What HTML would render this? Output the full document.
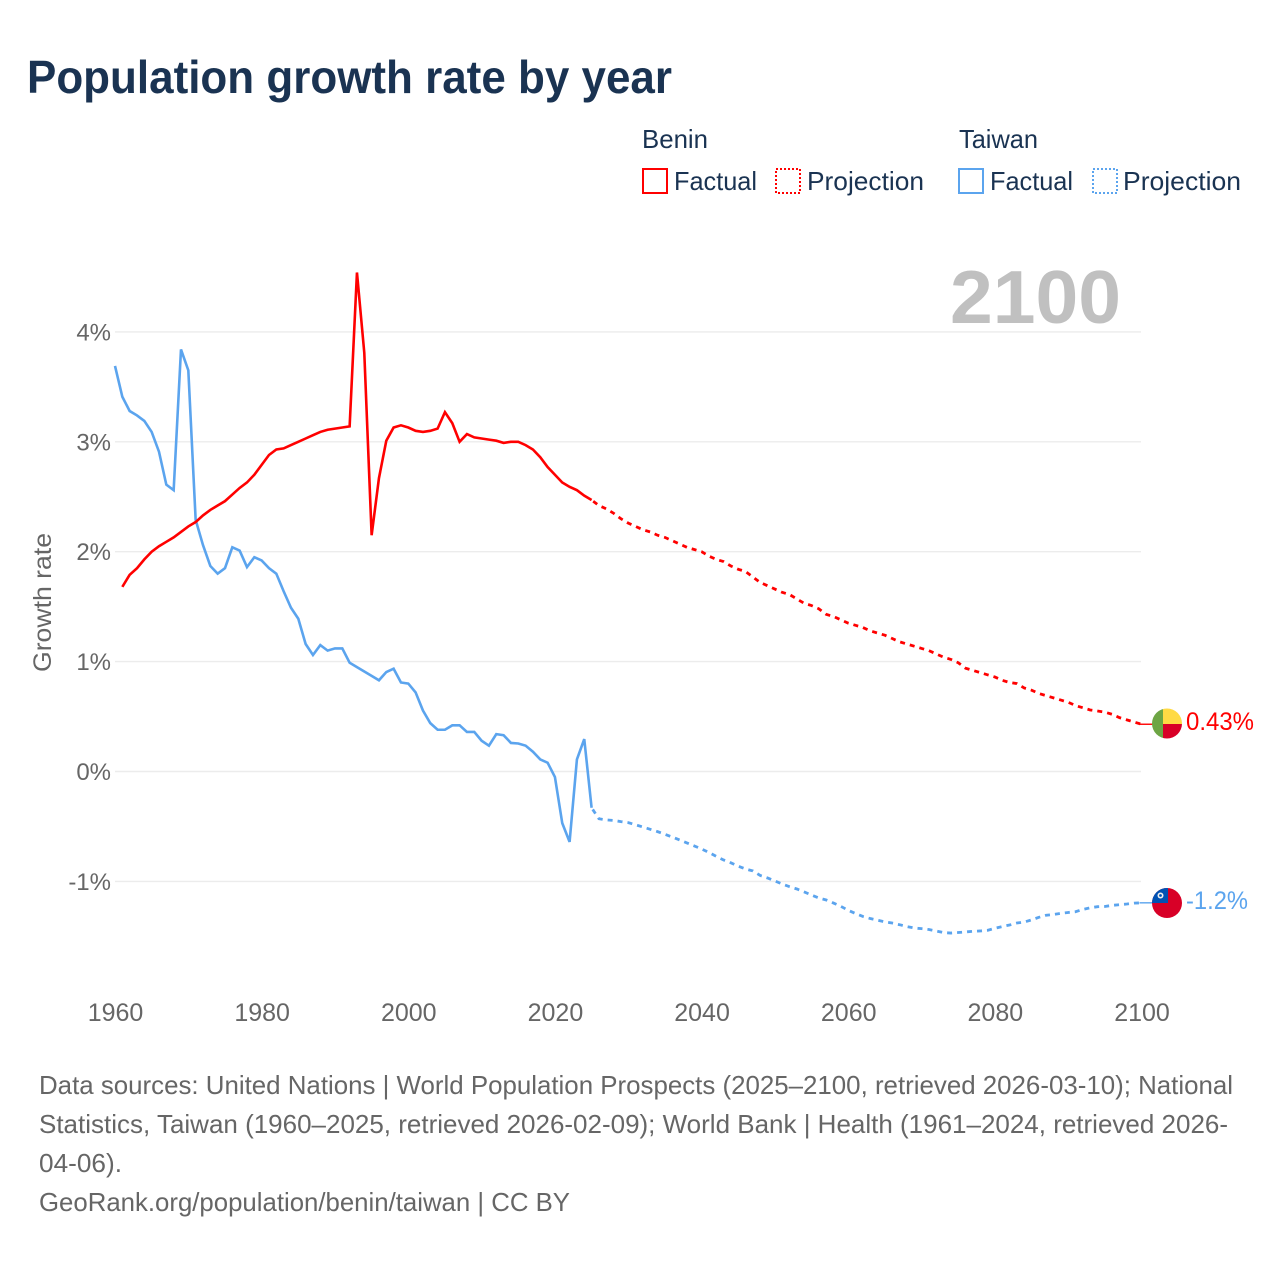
<!DOCTYPE html>
<html lang="en">
<head>
<meta charset="utf-8">
<title>Population growth rate by year</title>
<style>
html,body{margin:0;padding:0;background:#fff;width:1280px;height:1280px;overflow:hidden}
svg{display:block}
text{font-family:"Liberation Sans",sans-serif}
</style>
</head>
<body>
<svg id="chart" xmlns="http://www.w3.org/2000/svg" width="1280" height="1280" viewBox="0 0 1280 1280">
  <defs>
    <clipPath id="clip-benin"><circle cx="1167" cy="723.5" r="15"/></clipPath>
    <clipPath id="clip-taiwan"><circle cx="1167" cy="903" r="15"/></clipPath>
  </defs>
  <text x="27" y="93" font-size="46" font-weight="700" fill="#1a3352" textLength="645" lengthAdjust="spacingAndGlyphs">Population growth rate by year</text>

  <g font-size="26" fill="#1a3352">
    <text x="642" y="148" textLength="66" lengthAdjust="spacingAndGlyphs">Benin</text>
    <text x="959" y="148" textLength="79" lengthAdjust="spacingAndGlyphs">Taiwan</text>
    <g>
      <rect x="643" y="169" width="24" height="24" fill="none" stroke="#ff0000" stroke-width="2"/>
      <text x="674" y="190" textLength="83" lengthAdjust="spacingAndGlyphs">Factual</text>
    </g>
    <g>
      <rect x="776" y="169" width="24" height="24" fill="none" stroke="#ff0000" stroke-width="2" stroke-dasharray="2 2"/>
      <text x="807" y="190" textLength="117" lengthAdjust="spacingAndGlyphs">Projection</text>
    </g>
    <g>
      <rect x="959" y="169" width="24" height="24" fill="none" stroke="#5ba4ee" stroke-width="2"/>
      <text x="990" y="190" textLength="83" lengthAdjust="spacingAndGlyphs">Factual</text>
    </g>
    <g>
      <rect x="1093" y="169" width="24" height="24" fill="none" stroke="#5ba4ee" stroke-width="2" stroke-dasharray="2 2"/>
      <text x="1123" y="190" textLength="118" lengthAdjust="spacingAndGlyphs">Projection</text>
    </g>
  </g>

  <text x="950" y="323" font-size="75" font-weight="700" fill="#c0c0c0" textLength="171" lengthAdjust="spacingAndGlyphs">2100</text>

  <g id="grid"></g>
  <g id="y-ticks"></g>
  <g id="x-ticks"></g>
  <text transform="translate(51,672) rotate(-90)" font-size="25" fill="#666666" textLength="139" lengthAdjust="spacingAndGlyphs">Growth rate</text>

  <g id="series"></g>

  <g>
    <g clip-path="url(#clip-benin)">
      <rect x="1152" y="708" width="11" height="31" fill="#6da544"/>
      <rect x="1163" y="708" width="19" height="16" fill="#ffda44"/>
      <rect x="1163" y="724" width="19" height="15" fill="#d80027"/>
    </g>
    <text x="1186" y="730" font-size="25" fill="#ff0000" textLength="68" lengthAdjust="spacingAndGlyphs">0.43%</text>
  </g>
  <g>
    <g clip-path="url(#clip-taiwan)">
      <rect x="1152" y="888" width="30" height="30" fill="#d80027"/>
      <rect x="1152" y="888" width="16" height="15" fill="#0052b4"/>
      <circle cx="1160.5" cy="895.5" r="3" fill="#f0f0f0"/>
      <circle cx="1160.5" cy="895.5" r="1.4" fill="#0052b4"/>
    </g>
    <text x="1186" y="909" font-size="25" fill="#5ba4ee" textLength="62" lengthAdjust="spacingAndGlyphs">-1.2%</text>
  </g>

  <g font-size="26" fill="#666666">
    <text x="39" y="1094" textLength="1194" lengthAdjust="spacingAndGlyphs">Data sources: United Nations | World Population Prospects (2025–2100, retrieved 2026-03-10); National</text>
    <text x="39" y="1133" textLength="1189" lengthAdjust="spacingAndGlyphs">Statistics, Taiwan (1960–2025, retrieved 2026-02-09); World Bank | Health (1961–2024, retrieved 2026-</text>
    <text x="39" y="1172" textLength="83" lengthAdjust="spacingAndGlyphs">04-06).</text>
    <text x="39" y="1211" textLength="531" lengthAdjust="spacingAndGlyphs">GeoRank.org/population/benin/taiwan | CC BY</text>
  </g>
</svg>
<script>
const xTickYears = [1960, 1980, 2000, 2020, 2040, 2060, 2080, 2100];
const yTickValues = [4, 3, 2, 1, 0, -1];
const yTickLabels = ['4%', '3%', '2%', '1%', '0%', '-1%'];

const beninFactualStart = 1961;
const beninFactual = [1.68,1.79,1.85,1.93,2.00,2.05,2.09,2.13,2.18,2.23,2.27,2.33,2.38,2.42,2.46,2.52,2.58,2.63,2.70,2.79,2.88,2.93,2.94,2.97,3.00,3.03,3.06,3.09,3.11,3.12,3.13,3.14,4.54,3.81,2.15,2.67,3.01,3.13,3.15,3.13,3.10,3.09,3.10,3.12,3.27,3.17,3.00,3.07,3.04,3.03,3.02,3.01,2.99,3.00,3.00,2.97,2.93,2.86,2.77,2.70,2.63,2.59,2.56,2.51,2.47];
const beninProjectionStart = 2025;
const beninProjection = [2.47,2.42,2.39,2.35,2.30,2.26,2.23,2.20,2.18,2.15,2.13,2.10,2.07,2.04,2.02,2.00,1.96,1.93,1.91,1.87,1.84,1.82,1.77,1.72,1.69,1.66,1.63,1.61,1.57,1.53,1.51,1.48,1.43,1.41,1.38,1.35,1.33,1.31,1.28,1.26,1.24,1.21,1.18,1.16,1.14,1.12,1.10,1.07,1.04,1.02,0.99,0.94,0.92,0.90,0.88,0.86,0.83,0.81,0.80,0.76,0.74,0.71,0.69,0.67,0.65,0.63,0.60,0.58,0.56,0.55,0.54,0.52,0.49,0.47,0.45,0.43];

const taiwanFactualStart = 1960;
const taiwanFactual = [3.69,3.41,3.28,3.24,3.19,3.09,2.91,2.61,2.56,3.84,3.65,2.29,2.06,1.87,1.80,1.85,2.04,2.01,1.86,1.95,1.92,1.85,1.80,1.64,1.49,1.39,1.16,1.06,1.15,1.10,1.12,1.12,0.99,0.95,0.91,0.87,0.83,0.905,0.935,0.81,0.80,0.72,0.555,0.44,0.38,0.38,0.42,0.42,0.36,0.36,0.28,0.235,0.34,0.33,0.26,0.255,0.235,0.18,0.11,0.08,-0.05,-0.47,-0.64,0.11,0.295,-0.33];
const taiwanProjectionStart = 2025;
const taiwanProjection = [-0.33,-0.43,-0.44,-0.445,-0.456,-0.465,-0.485,-0.505,-0.526,-0.547,-0.571,-0.596,-0.623,-0.65,-0.677,-0.705,-0.737,-0.772,-0.805,-0.831,-0.862,-0.887,-0.905,-0.946,-0.969,-0.996,-1.024,-1.048,-1.069,-1.096,-1.124,-1.151,-1.169,-1.197,-1.227,-1.263,-1.292,-1.319,-1.338,-1.353,-1.368,-1.379,-1.394,-1.411,-1.424,-1.43,-1.438,-1.451,-1.466,-1.47,-1.465,-1.46,-1.454,-1.451,-1.445,-1.427,-1.411,-1.397,-1.379,-1.37,-1.35,-1.327,-1.308,-1.301,-1.291,-1.283,-1.276,-1.255,-1.24,-1.23,-1.228,-1.218,-1.212,-1.206,-1.198,-1.195];

const SVG_NS = 'http://www.w3.org/2000/svg';
const xScale = function (year) { return 115 + (year - 1960) * (1026.5 / 140); };
const yScale = function (value) { return 771.5 - value * 109.9; };

const gridGroup = document.getElementById('grid');
const yTickGroup = document.getElementById('y-ticks');
const xTickGroup = document.getElementById('x-ticks');
const seriesGroup = document.getElementById('series');

yTickValues.forEach(function (value, i) {
  const line = document.createElementNS(SVG_NS, 'line');
  
  
  line.setAttribute('x1', xScale(1960));
  line.setAttribute('x2', xScale(2100) - 0.5);
  line.setAttribute('y1', yScale(value));
  line.setAttribute('y2', yScale(value));
  line.setAttribute('stroke', '#ececec');
  line.setAttribute('stroke-width', '1.4');
  gridGroup.appendChild(line);

  const label = document.createElementNS(SVG_NS, 'text');
  
  
  label.setAttribute('x', '111');
  label.setAttribute('y', yScale(value) + 8.5);
  label.setAttribute('text-anchor', 'end');
  label.setAttribute('font-size', '24');
  label.setAttribute('fill', '#666666');
  label.textContent = yTickLabels[i];
  yTickGroup.appendChild(label);
});

xTickYears.forEach(function (year) {
  const label = document.createElementNS(SVG_NS, 'text');
  
  
  label.setAttribute('x', xScale(year) + 0.5);
  label.setAttribute('y', '1021');
  label.setAttribute('text-anchor', 'middle');
  label.setAttribute('font-size', '25');
  label.setAttribute('fill', '#666666');
  label.textContent = String(year);
  xTickGroup.appendChild(label);
});

function buildPath(startYear, values) {
  return values.map(function (value, i) {
    return (i === 0 ? 'M' : 'L') + xScale(startYear + i).toFixed(2) + ' ' + yScale(value).toFixed(2);
  }).join(' ');
}

function drawSeries(name, startYear, values, color, dashed) {
  const path = document.createElementNS(SVG_NS, 'path');
  
  
  path.setAttribute('d', buildPath(startYear, values));
  path.setAttribute('fill', 'none');
  path.setAttribute('stroke', color);
  path.setAttribute('stroke-width', dashed ? '2.8' : '2.6');
  path.setAttribute('stroke-linejoin', 'miter');
  if (dashed) {
    path.setAttribute('stroke-dasharray', '5 5');
    path.setAttribute('stroke-dashoffset', '8');
  }
  seriesGroup.appendChild(path);
}

function drawConnector(name, values, color) {
  const last = values[values.length - 1];
  const line = document.createElementNS(SVG_NS, 'line');
  
  
  line.setAttribute('x1', xScale(2100) - 2);
  line.setAttribute('x2', xScale(2100) + 11);
  line.setAttribute('y1', yScale(last));
  line.setAttribute('y2', yScale(last));
  line.setAttribute('stroke', color);
  line.setAttribute('stroke-width', '1.4');
  seriesGroup.appendChild(line);
}

drawSeries('taiwan-factual-line', taiwanFactualStart, taiwanFactual, '#5ba4ee', false);
drawSeries('taiwan-projection-line', taiwanProjectionStart, taiwanProjection, '#5ba4ee', true);
drawConnector('taiwan-end-connector', taiwanProjection, '#5ba4ee');
drawSeries('benin-factual-line', beninFactualStart, beninFactual, '#ff0000', false);
drawSeries('benin-projection-line', beninProjectionStart, beninProjection, '#ff0000', true);
drawConnector('benin-end-connector', beninProjection, '#ff0000');
</script>
</body>
</html>
